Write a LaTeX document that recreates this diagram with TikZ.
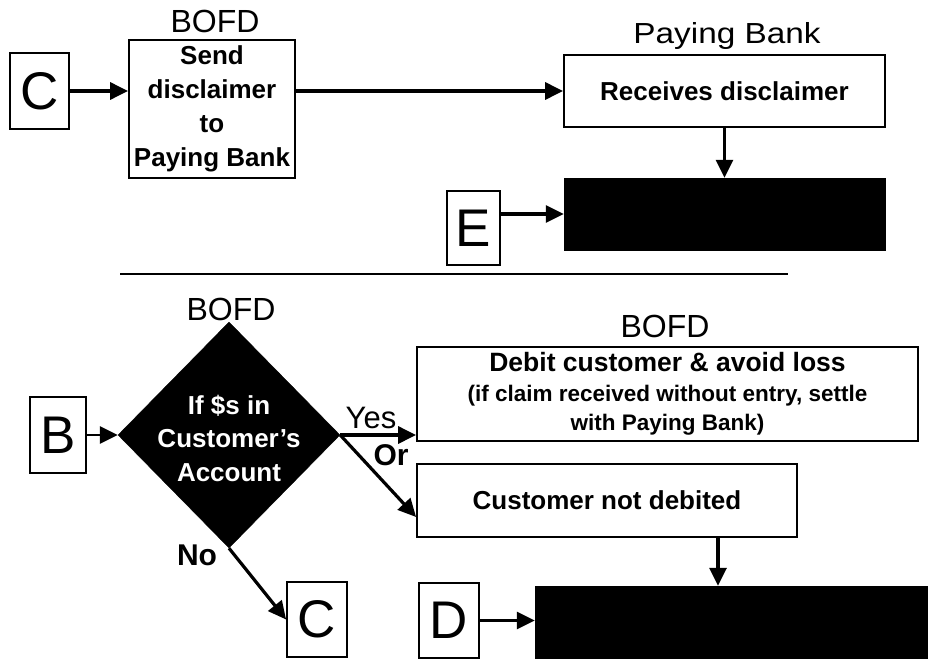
\documentclass[tikz,border=0pt]{standalone}
\usepackage{fontspec}
\usepackage{graphicx}
\setmainfont{Liberation Sans}
\usetikzlibrary{arrows.meta,shapes.geometric}
\begin{document}
\begin{tikzpicture}[x=1pt,y=-1pt,
  lbox/.style={draw,line width=1.8pt,fill=white,inner sep=0pt,font=\fontsize{53}{53}\selectfont},
  pbox/.style={draw,line width=1.8pt,fill=white,inner sep=0pt,align=center,font=\fontsize{26}{34}\selectfont\bfseries},
  blackbox/.style={draw=black,fill=black,inner sep=0pt},
  arr/.style={line width=3.2pt,-{Triangle[length=18pt,width=17pt]}},
  title/.style={anchor=base,inner sep=0pt,font=\fontsize{32}{32}\selectfont},
  branch/.style={anchor=base,inner sep=0pt,font=\fontsize{30}{30}\selectfont\bfseries}
]
\useasboundingbox (0,0) rectangle (928,658);
\clip (0,0) rectangle (928,658);
\fill[white] (0,0) rectangle (928,658);

% ---- top section ----
\node[lbox,minimum width=59pt,minimum height=76pt] (c1) at (39.5,91) {C};
\node[pbox,minimum width=166pt,minimum height=138pt] (send) at (212,109) {Send\\disclaimer\\to\\Paying Bank};
\node[title] (t1) at (215,33) {BOFD};
\node[pbox,minimum width=321pt,minimum height=72pt] (recv) at (724.5,91) {Receives disclaimer};
\node[title,font=\fontsize{29}{29}\selectfont] (t2) at (727,44) {\scalebox{1.15}[1]{Paying Bank}};
\node[blackbox,minimum width=321pt,minimum height=72pt] (blk1) at (724.5,214) {};
\node[lbox,minimum width=53pt,minimum height=74pt] (e) at (473.5,228) {E};

\draw[arr] (c1.east) -- (c1.east -| send.west);
\draw[arr] (recv.west -| send.east) -- (recv.west);
\draw[arr] (recv.south) -- (blk1.north);
\draw[arr] (blk1.west -| e.east) -- (blk1.west);

% separator
\coordinate (sepL) at (120,274);
\coordinate (sepR) at (788,274);
\draw[line width=1.6pt] (sepL) -- (sepR);

% ---- bottom section ----
\node[title] (t3) at (231,320) {BOFD};
\node[draw=black,fill=black,diamond,minimum width=222pt,minimum height=226pt,inner sep=0pt] (dia) at (229,435) {};
\node[font=\fontsize{26}{33.5}\selectfont\bfseries,text=white,align=center,inner sep=0pt] (diatext) at (229,438) {If \$s in\\Customer's\\Account};
\node[lbox,minimum width=56pt,minimum height=76pt] (b) at (58,435) {B};
\node[pbox,minimum width=501pt,minimum height=94pt,font=\fontsize{22.5}{29.5}\selectfont\bfseries] (debit) at (667.5,394)
  {{\fontsize{26.5}{30}\selectfont Debit customer \& avoid loss}\\(if claim received without entry, settle\\with Paying Bank)};
\node[title] (t4) at (665,337) {BOFD};
\node[pbox,minimum width=380pt,minimum height=73pt] (notdeb) at (607,500.5) {Customer not debited};
\node[lbox,minimum width=60pt,minimum height=75pt] (c2) at (317,619.5) {C};
\node[lbox,minimum width=60pt,minimum height=75pt] (d) at (449,620.5) {D};
\node[blackbox,minimum width=395pt,minimum height=75pt] (blk2) at (732.5,623.5) {};

\draw[arr,line width=2.6pt] (b.east) -- (dia.west);
\draw[arr] (dia.east) -- (dia.east -| debit.west);
\draw[arr] (dia.east) -- ([yshift=-16.5pt]notdeb.west);
\draw[arr] (dia.south) -- (c2.west);
\draw[arr] ([xshift=111pt]notdeb.south) -- ([xshift=111pt]notdeb.south |- blk2.north);
\draw[arr] (d.east) -- (d.east -| blk2.west);

\node[branch,font=\fontsize{31}{31}\selectfont] (yes) at (371,428) {Yes};
\node[branch] (or) at (391,465) {Or};
\node[branch] (no) at (197,565) {No};
\end{tikzpicture}
\end{document}
